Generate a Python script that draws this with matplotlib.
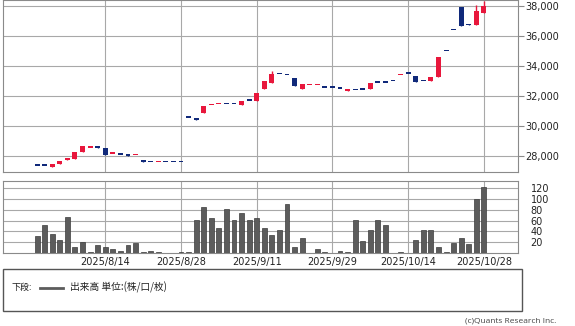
import numpy as np
import matplotlib
matplotlib.use("Agg")
import matplotlib.pyplot as plt
from matplotlib.patches import Rectangle
from matplotlib.lines import Line2D

# trading days (2025)
dates = ['7/31', '8/1', '8/4', '8/5', '8/6', '8/7', '8/8', '8/12', '8/13', '8/14',
         '8/15', '8/18', '8/19', '8/20', '8/21', '8/22', '8/25', '8/26', '8/27', '8/28',
         '8/29', '9/1', '9/2', '9/3', '9/4', '9/5', '9/8', '9/9', '9/10', '9/11',
         '9/12', '9/16', '9/17', '9/18', '9/19', '9/22', '9/24', '9/25', '9/26', '9/29',
         '9/30', '10/1', '10/2', '10/3', '10/6', '10/7', '10/8', '10/9', '10/10', '10/14',
         '10/15', '10/16', '10/17', '10/20', '10/21', '10/22', '10/23', '10/24', '10/27', '10/28']

opens = [27390, 27380, 27310, 27490, 27780, 27850, 28330, 28570, 28610, 28550,
         28170, 28120, 28080, 28070, 27780, 27630, 27610, 27620, 27620, 27620,
         30580, 30580, 30910, 31410, 31480, 31470, 31470, 31420, 31690, 31710,
         32470, 32930, 33470, 33400, 33220, 32530, 32740, 32740, 32580, 32580,
         32530, 32390, 32460, 32440, 32490, 32910, 32890, 33000, 33410, 33530,
         33380, 33000, 33020, 33330, 35020, 36400, 37950, 36850, 36750, 37580]
highs = [27390, 27380, 27510, 27730, 27870, 28330, 28690, 28590, 28610, 28550,
         28190, 28120, 28080, 28130, 27780, 27630, 27630, 27620, 27620, 27620,
         30580, 30580, 31350, 31430, 31500, 31470, 31470, 31670, 31690, 32250,
         33000, 33690, 33470, 33400, 33220, 32850, 32760, 32760, 32580, 32580,
         32530, 32410, 32460, 32440, 32890, 32910, 32890, 33000, 33430, 33530,
         33380, 33000, 33290, 34620, 35020, 36400, 37950, 36850, 38070, 38350]
lows = [27370, 27370, 27310, 27490, 27780, 27850, 28330, 28570, 28590, 28090,
        28170, 28100, 28060, 28070, 27650, 27610, 27610, 27620, 27620, 27620,
        30580, 30450, 30910, 31410, 31480, 31470, 31470, 31420, 31690, 31710,
        32470, 32930, 33470, 33400, 32670, 32530, 32740, 32740, 32580, 32580,
        32530, 32390, 32400, 32440, 32490, 32910, 32890, 33000, 33410, 33530,
        32980, 33000, 33020, 33330, 35020, 36400, 36710, 36750, 36750, 37580]
closes = [27370, 27370, 27510, 27730, 27870, 28330, 28690, 28590, 28590, 28090,
          28190, 28100, 28060, 28130, 27650, 27610, 27630, 27620, 27620, 27620,
          30580, 30450, 31350, 31430, 31500, 31470, 31470, 31670, 31690, 32250,
          33000, 33470, 33470, 33400, 32670, 32850, 32760, 32760, 32580, 32580,
          32530, 32410, 32400, 32440, 32890, 32910, 32890, 33000, 33430, 33530,
          32980, 33000, 33290, 34620, 35020, 36400, 36710, 36750, 37730, 38050]
volume = [31, 52, 36, 24, 66, 12, 21, 2.5, 14, 12,
          8, 4, 14, 19, 2.5, 4, 2.5, 0, 0, 2.5,
          2.5, 61, 85, 64, 46, 81, 61, 74, 61, 64,
          46, 33, 43, 91, 12, 28, 0.5, 8, 2.5, 0,
          4, 2.5, 61, 23, 43, 61, 51, 0.5, 2.5, 0.5,
          24, 43, 43, 12, 2.5, 18, 28, 16, 101, 123]

tick_dates = ['8/14', '8/28', '9/11', '9/29', '10/14', '10/28']
price_ticks = [28000, 30000, 32000, 34000, 36000, 38000]
vol_ticks = [20, 40, 60, 80, 100, 120]

UP = '#e8173c'
DOWN = '#10297a'
GRID = '#a8a8a8'
SPINE = '#8a8a8a'

W, H = 575, 326
fig = plt.figure(figsize=(W / 100, H / 100), dpi=100)


def frac(x0, y0, x1, y1):
    # pixel box (top-left origin) -> figure fraction rect
    return [x0 / W, 1 - y1 / H, (x1 - x0) / W, (y1 - y0) / H]


ax = fig.add_axes(frac(3, 0, 518, 171.5))
axv = fig.add_axes(frac(3, 181, 518, 253))

x = np.arange(len(dates))
o = np.array(opens)
c = np.array(closes)
col = np.where(c > o, UP, DOWN)
tick_pos = [dates.index(d) for d in tick_dates]

# candles
ax.vlines(x, lows, highs, colors=col, lw=1, zorder=3)
body_bottom = np.minimum(o, c)
body_h = np.maximum(np.abs(c - o), 110)
ax.bar(x, body_h, bottom=body_bottom, width=0.65, color=col, lw=0, zorder=4)

ax.set_xlim(-4.5, 63.5)
ax.set_ylim(27000, 38430)
ax.set_yticks(price_ticks)
ax.set_yticklabels([f'{v:,}' for v in price_ticks])
ax.set_xticks(tick_pos)
ax.tick_params(axis='x', length=0, labelbottom=False)
ax.yaxis.tick_right()
ax.tick_params(axis='y', length=4, width=0.8, color=SPINE, pad=1.5, labelsize=7, labelcolor='#222222')
ax.grid(True, color=GRID, lw=0.8)
ax.set_axisbelow(True)

# volume
axv.bar(x, volume, width=0.65, color='#5c5c5c', edgecolor='#3c3c3c', lw=0.5, zorder=3)
axv.set_xlim(-4.5, 63.5)
axv.set_ylim(0, 133.5)
axv.set_yticks(vol_ticks)
axv.set_xticks(tick_pos)
axv.set_xticklabels(['2025/' + d for d in tick_dates])
axv.yaxis.tick_right()
axv.tick_params(axis='y', length=0, pad=9, labelsize=7, labelcolor='#222222')
axv.tick_params(axis='x', length=0, pad=3, labelsize=7, labelcolor='#222222')
axv.grid(True, color=GRID, lw=0.8)
axv.set_axisbelow(True)

for a in (ax, axv):
    for s in a.spines.values():
        s.set_color(SPINE)
        s.set_linewidth(0.8)

# legend box
fig.patches.append(Rectangle((3 / W, 1 - 311 / H), 519 / W, 42.5 / H, transform=fig.transFigure,
                             fill=False, edgecolor='#555555', lw=1))
jp = ['Noto Sans CJK JP', 'DejaVu Sans']
ty = 1 - 287.5 / H
fig.text(11 / W, ty, '下段:', family=jp, fontsize=6.5, va='center', color='#222222')
fig.lines.append(Line2D([40 / W, 63 / W], [ty, ty], transform=fig.transFigure, color='#5c5c5c', lw=2))
fig.text(70 / W, ty, '出来高 単位:(株/口/枚)', family=jp, fontsize=7, va='center', color='#222222')
fig.text(556 / W, 1 - 321 / H, '(c)Quants Research Inc.', family=['Open Sans', 'DejaVu Sans'],
         fontsize=6, ha='right', va='center', color='#444444')

fig.savefig('out.png', dpi=100)
